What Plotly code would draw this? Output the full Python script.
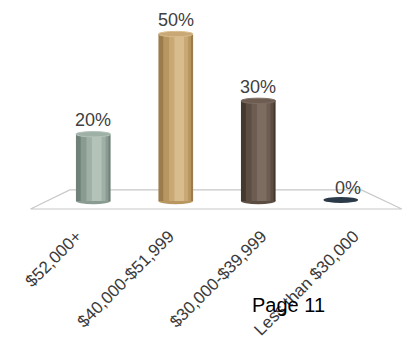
import plotly.graph_objects as go

categories = ["$52,000+", "$40,000-$51,999", "$30,000-$39,999", "Less than $30,000"]
values = [20, 50, 30, 0]
labels = ["20%", "50%", "30%", "0%"]
# shading levels (dark edge -> highlight) per category
shade_colors = [
    ["#6f8178", "#8a9c92", "#9fb1a7", "#b3c3ba"],
    ["#9c7c4c", "#b8965f", "#c9a875", "#d8bc8d"],
    ["#45382f", "#5c4d43", "#6c5c51", "#7d6c60"],
    ["#26323f", "#2b3a48", "#2e3d4c", "#34434f"],
]

W = 0.42
xs = list(range(len(categories)))
fig = go.Figure()

layers = [(1.0, 0.5), (0.8, 0.54), (0.55, 0.58), (0.28, 0.6)]
for k, (wf, cf) in enumerate(layers):
    fig.add_trace(go.Bar(
        x=xs, y=values, width=W * wf, offset=-W / 2 + (cf - wf / 2) * W,
        marker=dict(color=[c[k] for c in shade_colors], line=dict(width=0)),
        hoverinfo="skip", showlegend=False,
    ))

# invisible trace to carry the label axis
label_pos = [i * 1.12 - 0.2 for i in xs]
fig.add_trace(go.Scatter(x=label_pos, y=[0] * len(xs), xaxis="x2", mode="markers",
                         marker=dict(opacity=0), hoverinfo="skip", showlegend=False))

shapes = []
shapes.append(dict(type="path", xref="x", yref="y",
                   path="M -0.285,3.3 L 3.25,3.3 L 3.74,-2.4 L -0.76,-2.4 Z",
                   line=dict(color="#c8c8c8", width=1.2), fillcolor="rgba(255,255,255,0)",
                   layer="below"))
dy = 1.0
for i, v in enumerate(values):
    if v > 0:
        shapes.append(dict(type="circle", xref="x", yref="y", x0=i - W / 2, x1=i + W / 2,
                           y0=-dy, y1=dy, fillcolor=shade_colors[i][1],
                           line=dict(width=0), layer="below"))
        shapes.append(dict(type="circle", xref="x", yref="y", x0=i - W / 2, x1=i + W / 2,
                           y0=v - dy * 0.8, y1=v + dy * 0.8, fillcolor=shade_colors[i][2],
                           line=dict(color=shade_colors[i][3], width=1), layer="above"))
    else:
        shapes.append(dict(type="circle", xref="x", yref="y", x0=i - W / 2, x1=i + W / 2,
                           y0=v - dy * 0.6, y1=v + dy * 1.2, fillcolor=shade_colors[i][1],
                           line=dict(width=0), layer="above"))

annotations = []
for i, (v, t) in enumerate(zip(values, labels)):
    annotations.append(dict(x=i, y=v, xref="x", yref="y", text=t, showarrow=False,
                            yanchor="bottom", yshift=2 if v > 0 else 1,
                            xshift=0 if v > 0 else 7,
                            font=dict(family="Liberation Sans, Arial", size=18, color="#404040")))
annotations.append(dict(x=(288 - 19) / 383, y=-(305 - 211) / 211, xref="paper", yref="paper",
                        text="Page 11", showarrow=False, xanchor="center", yanchor="middle",
                        font=dict(family="Liberation Sans, Arial", size=20, color="#000000")))

fig.update_layout(
    width=404, height=341,
    margin=dict(l=19, r=2, t=0, b=130),
    paper_bgcolor="white", plot_bgcolor="white",
    barmode="overlay",
    shapes=shapes,
    annotations=annotations,
    xaxis=dict(range=[-0.9, 3.742], showticklabels=False, showgrid=False, zeroline=False,
               showline=False, ticks=""),
    xaxis2=dict(range=[-0.9, 3.742], overlaying="x", side="bottom", anchor="y",
                tickmode="array", tickvals=label_pos, ticktext=categories,
                tickangle=-45, showgrid=False, zeroline=False, showline=False, ticks="",
                ticklabelstandoff=11,
                tickfont=dict(family="Liberation Sans, Arial", size=17, color="#3a3a3a")),
    yaxis=dict(range=[-3.0, 60.2], visible=False),
)
fig.write_html("out.html")
